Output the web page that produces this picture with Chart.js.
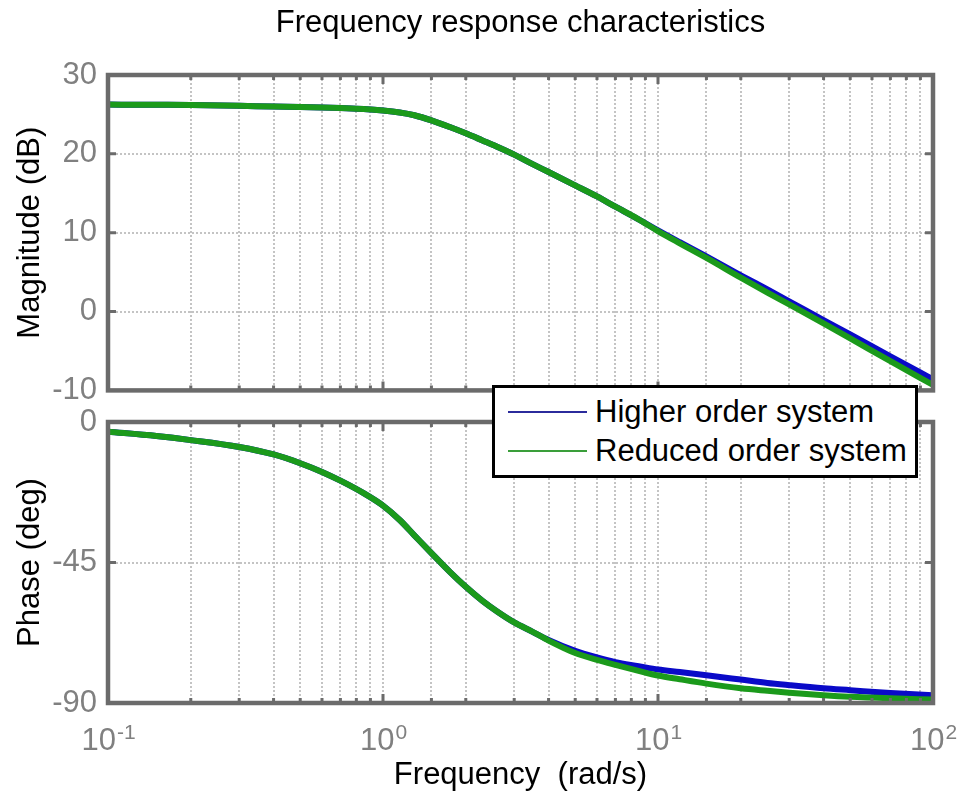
<!DOCTYPE html>
<html>
<head>
<meta charset="utf-8">
<script src="https://cdn.jsdelivr.net/npm/chart.js@4/dist/chart.umd.min.js"></script>
<style>
body { margin: 0; background: #fff; }
#wrap { position: relative; width: 959px; height: 796px; font-family: "Liberation Sans", Arial, sans-serif; }
canvas { position: absolute; left: 0; }
#chartMag { top: 0; }
#chartPhase { top: 390px; }
#legend { position: absolute; left: 492px; top: 385px; width: 426px; height: 93px; box-sizing: border-box; border: 3px solid #000; background: #fff; }
.item { position: absolute; left: 100px; font-size: 31px; line-height: 32px; color: #000; white-space: nowrap; }
.swatch { position: absolute; left: 13px; width: 79px; height: 2px; }
</style>
</head>
<body>
<div id="wrap">
  <canvas id="chartMag" width="959" height="420"></canvas>
  <canvas id="chartPhase" width="959" height="406"></canvas>
  <div id="legend">
    <div class="swatch" style="top:23px;background:#2b2b9c"></div>
    <div class="item" style="top:8px">Higher order system</div>
    <div class="swatch" style="top:62px;background:#3a9e3a"></div>
    <div class="item" style="top:47px">Reduced order system</div>
  </div>
</div>
<script>
// frequency points (rad/s)
const freq = [0.1, 0.15, 0.2, 0.3, 0.4, 0.5, 0.6, 0.7, 0.85, 1, 1.15, 1.3, 1.5, 1.75, 2, 2.3, 2.6, 3, 3.5, 4, 5, 6, 7, 8.5, 10, 12, 15, 20, 25, 30, 40, 50, 70, 100]

// magnitude (dB)
const magHigh    = [26.25, 26.22, 26.2, 26.1, 26.0, 25.95, 25.88, 25.8, 25.68, 25.5, 25.25, 24.9, 24.25, 23.4, 22.6, 21.7, 20.9, 19.9, 18.7, 17.7, 16.0, 14.6, 13.3, 11.7, 10.3, 8.8, 7.0, 4.6, 2.8, 1.3, -1.1, -2.9, -5.7, -8.6]
const magReduced = [26.25, 26.22, 26.2, 26.1, 26.0, 25.95, 25.88, 25.8, 25.68, 25.5, 25.25, 24.9, 24.25, 23.4, 22.6, 21.7, 20.9, 19.9, 18.7, 17.7, 16.0, 14.6, 13.3, 11.7, 10.2, 8.65, 6.8, 4.3, 2.4, 0.9, -1.5, -3.4, -6.3, -9.3]

// phase (deg)
const phaseHigh    = [-3.1, -4.5, -5.8, -8.0, -10.4, -13.2, -16.0, -18.8, -22.8, -26.8, -31.4, -36.3, -42.0, -48.0, -52.8, -57.3, -60.7, -64.2, -67.2, -69.8, -73.3, -75.4, -76.9, -78.2, -79.3, -80.1, -81.1, -82.5, -83.6, -84.3, -85.3, -85.9, -86.8, -87.5]
const phaseReduced = [-3.1, -4.5, -5.8, -8.0, -10.4, -13.2, -16.0, -18.8, -22.8, -26.8, -31.4, -36.3, -42.0, -48.0, -52.8, -57.3, -60.7, -64.2, -67.2, -70.0, -74.0, -76.2, -77.8, -79.7, -81.2, -82.4, -83.8, -85.3, -86.1, -86.7, -87.5, -88.0, -88.5, -88.9]

const magTicks = [-10, 0, 10, 20, 30]
const phaseTicks = [-90, -45, 0]
const decadeTicks = [0.1, 1, 10, 100]

const family = '"Liberation Sans", Arial, sans-serif'
const blue = '#0a0ac8'
const green = '#1b9a1b'
const gridColor = '#c4c4c4'
const frameColor = '#6b6b6b'
const tickColor = '#808080'

const isDecade = v => Math.abs(Math.log10(v) - Math.round(Math.log10(v))) < 1e-6

const toPoints = (ys) => freq.map((f, i) => ({ x: f, y: ys[i] }))

// box round the plot area with small inward tick marks
const framePlugin = {
    id: 'frame',
    afterDatasetsDraw(chart) {
        const { ctx, chartArea: a, scales } = chart
        ctx.save()
        ctx.strokeStyle = frameColor
        ctx.lineWidth = 3
        ctx.beginPath()
        scales.x.ticks.forEach(t => {
            const px = scales.x.getPixelForValue(t.value)
            const len = isDecade(t.value) ? 9 : 5
            ctx.moveTo(px, a.bottom); ctx.lineTo(px, a.bottom - len)
            ctx.moveTo(px, a.top); ctx.lineTo(px, a.top + len)
        })
        scales.y.ticks.forEach(t => {
            const py = scales.y.getPixelForValue(t.value)
            ctx.moveTo(a.left, py); ctx.lineTo(a.left + 8, py)
            ctx.moveTo(a.right, py); ctx.lineTo(a.right - 8, py)
        })
        ctx.stroke()
        ctx.lineWidth = 4.5
        ctx.strokeRect(a.left, a.top, a.right - a.left, a.bottom - a.top)
        ctx.restore()
    }
}

// 10^n labels under the phase plot
const decadeLabels = {
    id: 'decadeLabels',
    afterDraw(chart) {
        const { ctx, scales: { x } } = chart
        const base = '31px ' + family
        const small = '21px ' + family
        ctx.save()
        ctx.fillStyle = tickColor
        ctx.textAlign = 'left'
        ctx.textBaseline = 'alphabetic'
        decadeTicks.forEach(v => {
            const exp = String(Math.round(Math.log10(v)))
            ctx.font = base
            const wb = ctx.measureText('10').width
            ctx.font = small
            const we = ctx.measureText(exp).width
            const x0 = x.getPixelForValue(v) - (wb + we) / 2
            ctx.font = base
            ctx.fillText('10', x0, x.top + 47)
            ctx.font = small
            ctx.fillText(exp, x0 + wb + 1, x.top + 36)
        })
        ctx.restore()
    }
}

const lineSet = (label, data, color, order) => ({
    label,
    data,
    borderColor: color,
    backgroundColor: color,
    borderWidth: 6,
    pointRadius: 0,
    cubicInterpolationMode: 'monotone',
    order
})

const xAxis = (height, title) => ({
    type: 'logarithmic',
    min: decadeTicks[0],
    max: decadeTicks[decadeTicks.length - 1],
    ticks: { display: false, autoSkip: false },
    grid: { color: gridColor, lineWidth: 2, drawTicks: false },
    border: { display: false, dash: [2, 2] },
    title: title,
    afterFit: s => { s.height = height }
})

const yAxis = (ticks, title) => ({
    min: ticks[0],
    max: ticks[ticks.length - 1],
    ticks: { stepSize: ticks[1] - ticks[0], color: tickColor, font: { size: 31, family }, padding: 11 },
    grid: { color: gridColor, lineWidth: 2, drawTicks: false },
    border: { display: false, dash: [2, 2] },
    title: { display: true, text: title, color: '#000', font: { size: 31, family }, padding: { top: 11.4, bottom: 0 } },
    afterFit: s => { s.width = 108 }
})

const chartMag = new Chart(document.getElementById('chartMag'), {
    type: 'line',
    data: {
        datasets: [
            lineSet('Higher order system', toPoints(magHigh), blue, 1),
            lineSet('Reduced order system', toPoints(magReduced), green, 0)
        ]
    },
    options: {
        responsive: false,
        animation: false,
        layout: { padding: { left: 0, right: 26, top: 0, bottom: 0 } },
        plugins: {
            legend: { display: false },
            tooltip: { enabled: false },
            title: {
                display: true,
                fullSize: false,
                text: 'Frequency response characteristics',
                color: '#000',
                font: { size: 31, weight: 'normal', family },
                padding: { top: 4.4, bottom: 33.4 }
            }
        },
        scales: {
            x: xAxis(24, { display: false }),
            y: yAxis(magTicks, 'Magnitude (dB)')
        }
    },
    plugins: [framePlugin]
})

const chartPhase = new Chart(document.getElementById('chartPhase'), {
    type: 'line',
    data: {
        datasets: [
            lineSet('Higher order system', toPoints(phaseHigh), blue, 1),
            lineSet('Reduced order system', toPoints(phaseReduced), green, 0)
        ]
    },
    options: {
        responsive: false,
        animation: false,
        layout: { padding: { left: 0, right: 26, top: 32, bottom: 0 } },
        plugins: {
            legend: { display: false },
            tooltip: { enabled: false }
        },
        scales: {
            x: xAxis(93, { display: true, text: 'Frequency  (rad/s)', color: '#000', font: { size: 31, family }, padding: { top: 0, bottom: 2.4 } }),
            y: yAxis(phaseTicks, 'Phase (deg)')
        }
    },
    plugins: [framePlugin, decadeLabels]
})
</script>
</body>
</html>
